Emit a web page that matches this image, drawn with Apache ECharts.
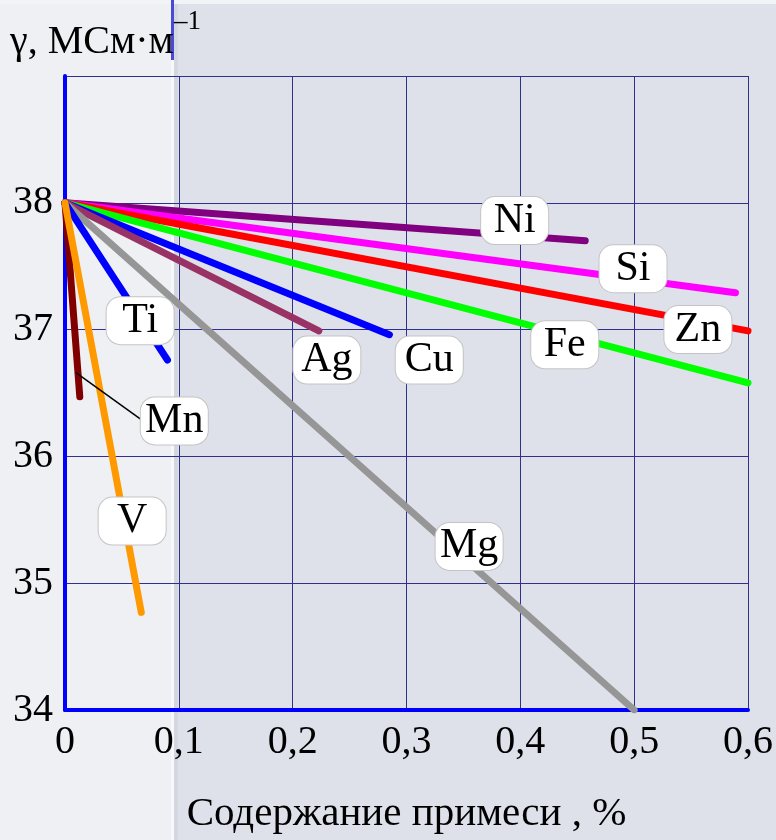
<!DOCTYPE html>
<html><head><meta charset="utf-8">
<script src="https://cdn.jsdelivr.net/npm/echarts@6/dist/echarts.min.js"></script>
<style>html,body{margin:0;padding:0;background:#dee1ea}#c{width:776px;height:840px}</style>
</head><body><div id="c"></div>
<script>
// Data
const elements = ['Ni', 'Si', 'Zn', 'Fe', 'Cu', 'Ag', 'Mg', 'Ti', 'Mn', 'V'];
const startX = 0;
const startY = 38;
const endX = [0.457, 0.589, 0.600, 0.600, 0.285, 0.223, 0.500, 0.090, 0.013, 0.067];
const endY = [37.70, 37.29, 36.99, 36.58, 36.96, 36.99, 34.00, 36.76, 36.47, 34.77];
const labelX = [0.395, 0.499, 0.556, 0.439, 0.320, 0.230, 0.355, 0.066, 0.096, 0.059];
const labelY = [37.86, 37.48, 37.00, 36.88, 36.76, 36.76, 35.29, 37.07, 36.28, 35.49];
const mnLeaderX = [0.0096, 0.067];
const mnLeaderY = [36.66, 36.29];
const xTicks = [0, 0.1, 0.2, 0.3, 0.4, 0.5, 0.6];
const yTicks = [34, 35, 36, 37, 38, 39];
const yName = 'γ, МСм·м';
const yNameSup = '–1';
const xName = 'Содержание примеси , %';

// Styles
const colors = ['#800080', '#ff00ff', '#ff0000', '#00ff00', '#0000ff', '#993366', '#969696', '#0000ff', '#800000', '#ff9900'];
const FONT = '"Liberation Serif", "DejaVu Serif", serif';

const chart = echarts.init(document.getElementById('c'), null, {renderer: 'canvas'});

const series = elements.map((el, i) => ({
  name: el,
  type: 'line',
  data: [[startX, startY], [endX[i], endY[i]]],
  symbol: 'none',
  lineStyle: {color: colors[i], width: 7, cap: 'round'},
  z: 3,
  silent: true
}));

series.push({
  name: 'Mn-leader',
  type: 'line',
  data: mnLeaderX.map((x, i) => [x, mnLeaderY[i]]),
  symbol: 'none',
  lineStyle: {color: '#000', width: 1.5},
  z: 4,
  silent: true
});

series.push({
  name: 'labels',
  type: 'scatter',
  data: elements.map((el, i) => [labelX[i], labelY[i], el]),
  symbolSize: 2,
  itemStyle: {color: 'rgba(0,0,0,0)', opacity: 1},
  z: 10,
  label: {
    show: true,
    position: 'inside',
    formatter: p => p.data[2],
    fontFamily: FONT,
    fontSize: 42,
    color: '#000',
    opacity: 1,
    backgroundColor: '#fff',
    borderColor: '#c4c4c4',
    borderWidth: 1,
    borderRadius: 14,
    width: 61,
    height: 43,
    lineHeight: 43,
    align: 'center',
    verticalAlign: 'middle',
    padding: [2, 3]
  },
  labelLayout: {hideOverlap: false},
  silent: true
});

chart.setOption({
  backgroundColor: '#dee1ea',
  animation: false,
  graphic: [
    {type: 'rect', left: 0, top: 0, shape: {width: 171, height: 840}, style: {fill: '#eef0f4'}, z: -10, silent: true},
    {type: 'rect', left: 171, top: 0, shape: {width: 3, height: 840}, style: {fill: '#f7f8fa'}, z: -10, silent: true},
    {type: 'rect', left: 174, top: 0, shape: {width: 4, height: 840}, style: {fill: '#d3d7e0'}, z: -10, silent: true},
    {type: 'rect', left: 0, top: 0, shape: {width: 776, height: 4}, style: {fill: '#f2f3f6'}, z: -9, silent: true},
    {type: 'rect', left: 171, top: 0, shape: {width: 3, height: 60}, style: {fill: '#4a4ad8'}, z: -8, silent: true},
    {type: 'text', left: 10, top: 22, style: {text: yName, font: '40px ' + FONT, fill: '#000'}, z: 5},
    {type: 'text', left: 174, top: 8, style: {text: yNameSup, font: '27px ' + FONT, fill: '#000'}, z: 5}
  ],
  grid: {left: 65, right: 26, top: 76, bottom: 127, containLabel: false},
  xAxis: {
    type: 'value',
    min: 0, max: 0.6, interval: 0.1,
    name: xName,
    nameLocation: 'middle',
    nameGap: 84,
    nameTextStyle: {fontFamily: FONT, fontSize: 41, color: '#000'},
    axisLine: {show: true, lineStyle: {color: '#0000ff', width: 4}},
    axisTick: {show: false},
    splitLine: {show: true, lineStyle: {color: '#30308f', width: 1}},
    axisLabel: {
      fontFamily: FONT, fontSize: 40, color: '#000', margin: 12,
      formatter: v => {
        const t = xTicks.find(x => Math.abs(x - v) < 1e-9);
        return t === 0 ? '0' : String(t).replace('.', ',');
      }
    }
  },
  yAxis: {
    type: 'value',
    min: 34, max: 39, interval: 1,
    axisLine: {show: true, lineStyle: {color: '#0000ff', width: 4}},
    axisTick: {show: false},
    splitLine: {show: true, lineStyle: {color: '#30308f', width: 1}},
    axisLabel: {
      fontFamily: FONT, fontSize: 40, color: '#000', margin: 12,
      formatter: v => (v === yTicks[yTicks.length - 1] ? '' : String(v))
    }
  },
  series: series
});
</script>
</body></html>
